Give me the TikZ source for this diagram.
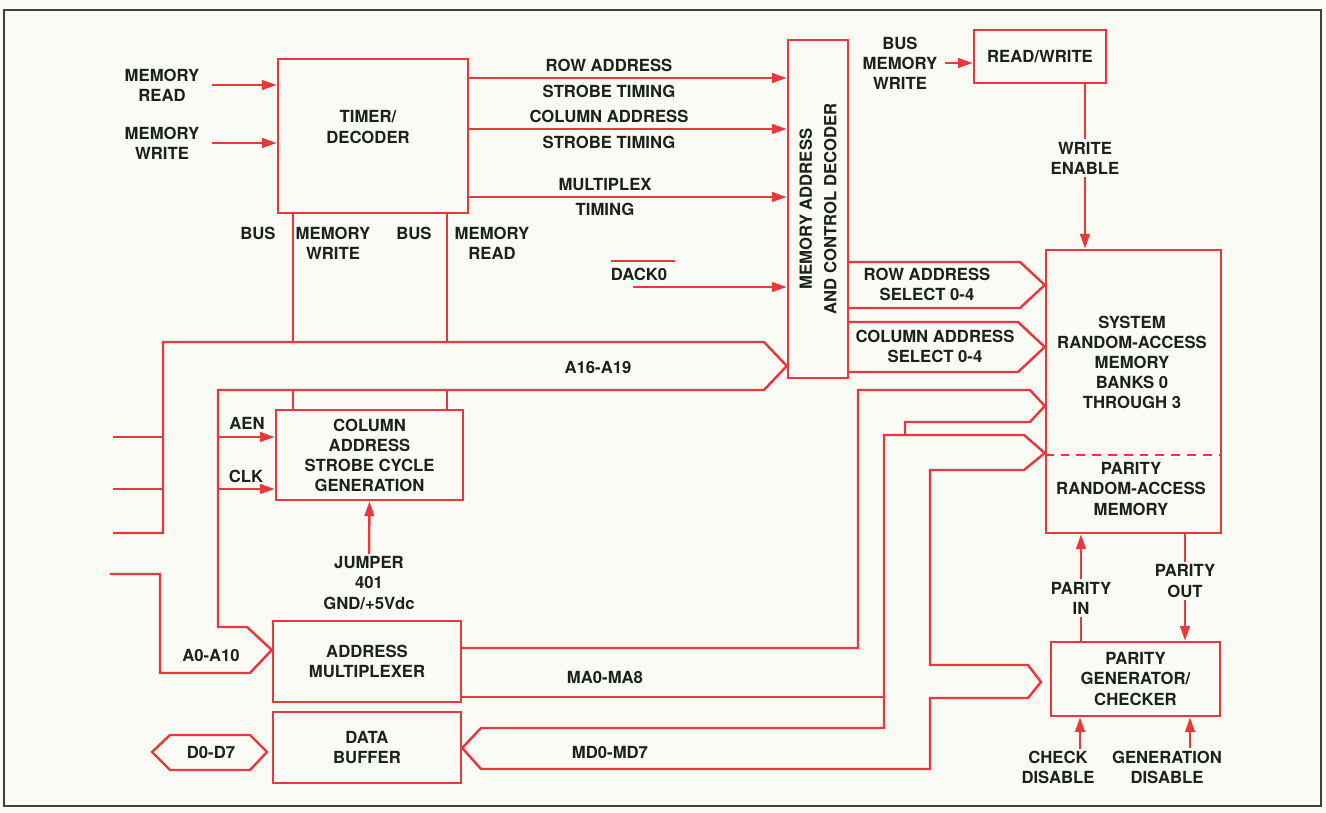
\documentclass[tikz,border=0pt]{standalone}
\usepackage{fontspec}
\setmainfont{TeX Gyre Heros}
\usetikzlibrary{arrows.meta}
\definecolor{wirered}{RGB}{232,56,60}
\definecolor{ink}{RGB}{26,34,28}
\definecolor{paper}{RGB}{251,251,246}
\newcommand{\lblfont}{\fontsize{9.5}{11.4}\selectfont\bfseries}
\tikzset{%
  wire/.style={line width=1.4pt,draw=wirered,line join=miter},
  sigarrow/.style={wire,-{Triangle[length=8.5pt,width=5.5pt]}},
  block/.style={rectangle,draw=wirered,line width=1.4pt,inner sep=0pt,
    align=center,text=ink,font=\lblfont},
  txt/.style={align=center,text=ink,font=\lblfont,inner sep=1.5pt}
}
\begin{document}
\begin{tikzpicture}[x=0.02cm,y=-0.02cm]
    \useasboundingbox (0,0) rectangle (1326,812);
    \fill[paper] (0,0) rectangle (1326,812);
    \draw[ink!85,line width=0.9pt] (4,10) rectangle (1321,806);

    % blocks
    \node[block,minimum width=3.80cm,minimum height=3.08cm] (timer) at (373,136) {};
    \node[txt] (timertxt) at (368,127) {TIMER/\\DECODER};
    \node[block,minimum width=1.20cm,minimum height=6.76cm] (dec) at (818,209) {};
    \node[txt,rotate=90] (dectxt) at (dec.center) {MEMORY ADDRESS\\[2.6pt]AND CONTROL DECODER};
    \node[block,minimum width=2.64cm,minimum height=1.06cm] (rw) at (1040,56.5) {READ/WRITE};
    \node[block,minimum width=3.50cm,minimum height=5.66cm] (ram) at (1133.5,391.5) {};
    \node[txt] (sysram) at (1132,362) {SYSTEM\\RANDOM-ACCESS\\MEMORY\\BANKS 0\\THROUGH 3};
    \node[txt] (parram) at (1131,489) {PARITY\\RANDOM-ACCESS\\MEMORY};
    \draw[wire,dash pattern=on 5pt off 4pt] (ram.west |- 0,455) -- (ram.east |- 0,455);
    \node[block,minimum width=3.38cm,minimum height=1.48cm] (pgc) at (1135.5,679) {PARITY\\GENERATOR/\\CHECKER};
    \node[block,minimum width=3.74cm,minimum height=1.80cm] (cas) at (369.5,455) {COLUMN\\ADDRESS\\STROBE CYCLE\\GENERATION};
    \node[block,minimum width=3.76cm,minimum height=1.62cm] (amux) at (367,661.5) {ADDRESS\\MULTIPLEXER};
    \node[block,minimum width=3.76cm,minimum height=1.42cm] (dbuf) at (367,747.5) {DATA\\BUFFER};

    % timer inputs
    \node[txt] (mrd) at (162,85) {MEMORY\\READ};
    \node[txt] (mwr) at (162,143) {MEMORY\\WRITE};
    \draw[sigarrow] ([xshift=0.2cm]mrd.east) -- (timer.west |- mrd);
    \draw[sigarrow] ([xshift=0.2cm]mwr.east) -- (timer.west |- mwr);

    % timer outputs to decoder
    \node[txt] (rast) at (609,78) {ROW ADDRESS\\[3.3pt]STROBE TIMING};
    \node[txt] (cast) at (609,129) {COLUMN ADDRESS\\[3.3pt]STROBE TIMING};
    \node[txt] (mxt) at (605,197) {MULTIPLEX\\[3pt]TIMING};
    \draw[sigarrow] (timer.east |- rast) -- (dec.west |- rast);
    \draw[sigarrow] (timer.east |- cast) -- (dec.west |- cast);
    \draw[sigarrow] (timer.east |- mxt) -- (dec.west |- mxt);

    \node[txt] (dack) at (639,274) {DACK0};
    \draw[wire,line width=1pt] ([xshift=2pt,yshift=2pt]dack.north west) -- ([xshift=3pt,yshift=2pt]dack.north east);
    \coordinate (dackin) at (633,287);
    \draw[sigarrow] (dackin) -- (dec.west |- dackin);

    % read/write
    \node[txt] (bmw) at (900,63) {BUS\\MEMORY\\WRITE};
    \draw[sigarrow] ([xshift=0.1cm]bmw.east) -- (rw.west |- bmw);
    \node[txt] (wen) at (1085,158) {WRITE\\ENABLE};
    \draw[wire] (rw.south -| wen) -- (wen.north);
    \draw[sigarrow] (wen.south) -- (ram.north -| wen);

    % decoder to ram
    \draw[wire] (dec.east |- 0,262) -- (1020,262) -- (ram.west |- 0,285) -- (1020,308) -- (dec.east |- 0,308);
    \node[txt] (rsel) at (927,284) {ROW ADDRESS\\SELECT 0-4};
    \draw[wire] (dec.east |- 0,322) -- (1018,322) -- (ram.west |- 0,347) -- (1018,372) -- (dec.east |- 0,372);
    \node[txt] (csel) at (935,346) {COLUMN ADDRESS\\SELECT 0-4};

    % parity
    \node[txt] (pin) at (1081,598) {PARITY\\IN};
    \draw[wire] (pgc.north -| pin) -- (pin.south);
    \draw[sigarrow] (pin.north) -- (ram.south -| pin);
    \node[txt] (pout) at (1185,581) {PARITY\\OUT};
    \draw[wire] (ram.south -| pout) -- (pout.north);
    \draw[sigarrow] (pout.south) -- (pgc.north -| pout);
    \node[txt] (chk) at (1058,767) {CHECK\\DISABLE};
    \node[txt] (gen) at (1167,767) {GENERATION\\DISABLE};
    \coordinate (chkin) at (1080,749);
    \coordinate (genin) at (1190,748);
    \draw[sigarrow] (chkin) -- (pgc.south -| chkin);
    \draw[sigarrow] (genin) -- (pgc.south -| genin);

    % timer strobes down to the column address strobe block
    \node[txt] (bus1) at (258,233) {BUS};
    \node[txt] (mwb) at (333,243) {MEMORY\\WRITE};
    \node[txt] (bus2) at (414,233) {BUS};
    \node[txt] (mrb) at (492,243) {MEMORY\\READ};
    \coordinate (bw) at (293,342);
    \coordinate (br) at (447,342);
    \draw[wire] (timer.south -| bw) -- (bw);
    \draw[wire] (timer.south -| br) -- (br);
    \draw[wire] (bw |- 0,390) -- (cas.north -| bw);
    \draw[wire] (br |- 0,390) -- (cas.north -| br);

    \node[txt] (aen) at (247,423) {AEN};
    \node[txt] (clk) at (246,476) {CLK};
    \coordinate (aenin) at (218,437);
    \coordinate (clkin) at (218,489);
    \draw[sigarrow] (aenin) -- (cas.west |- aenin);
    \draw[sigarrow] (clkin) -- (cas.west |- clkin);

    \node[txt] (jmp) at (369,583) {JUMPER\\401\\GND/+5Vdc};
    \draw[sigarrow] (jmp.north) -- (cas.south);

    % address bus
    \draw[wire] (113,437) -- (163,437);
    \draw[wire] (113,489) -- (163,489);
    \draw[wire] (113,533) -- (163,533) -- (163,342) -- (764,342) -- (dec.west |- 0,366)
        -- (764,390) -- (218,390) -- (218,627) -- (247,627) -- (amux.west |- 0,650)
        -- (250,673) -- (160,673) -- (160,574) -- (110,574);
    \node[txt] (ahi) at (598,367) {A16-A19};
    \node[txt] (alo) at (211,655) {A0-A10};

    % multiplexed address bus
    \draw[wire] (amux.east |- 0,648) -- (858,648) -- (858,390) -- (1030,390) -- (ram.west |- 0,406)
        -- (1030,422) -- (905,422) -- (905,435);
    \draw[wire] (amux.east |- 0,697) -- (884,697);
    \node[txt] (ma) at (605,677) {MA0-MA8};

    % memory data bus
    \draw[wire] (884,435) -- (1024,435) -- (ram.west |- 0,453) -- (1024,470) -- (930,470)
        -- (930,665) -- (1028,665) -- (1041,682) -- (1028,698) -- (930,698) -- (930,769)
        -- (481,769) -- (dbuf.east |- 0,748) -- (481,728) -- (884,728) -- cycle;
    \node[txt] (md) at (610,752) {MD0-MD7};

    % system data bus
    \draw[wire] (152,752) -- (170,735) -- (250,735) -- (267,752) -- (250,770) -- (170,770) -- cycle;
    \node[txt] (dbus) at (211,752) {D0-D7};

\end{tikzpicture}
\end{document}
